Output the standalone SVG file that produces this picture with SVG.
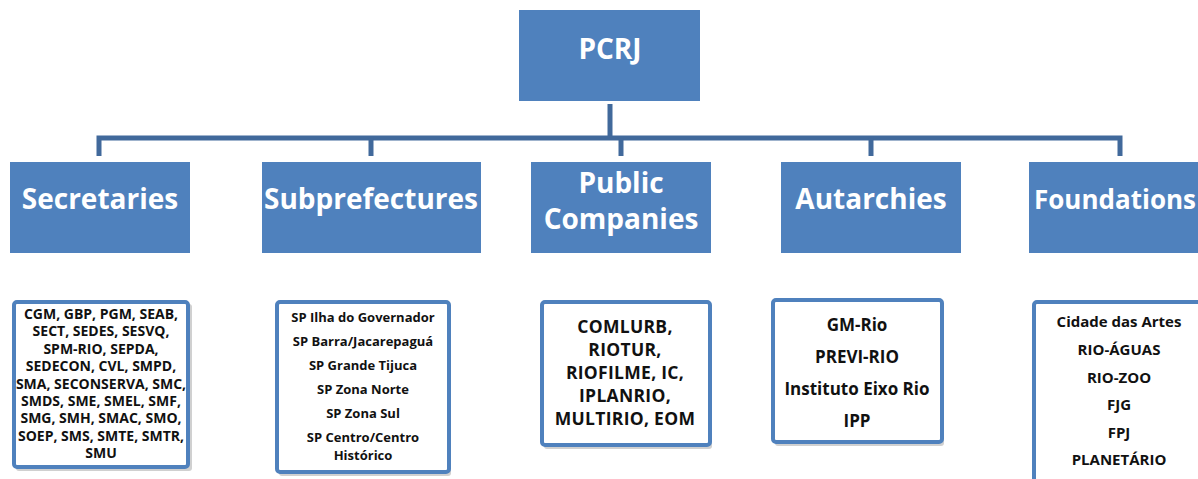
<svg xmlns="http://www.w3.org/2000/svg" width="1198" height="479" viewBox="0 0 1198 479">
<style>
.hdr{fill:#4F81BD}
.ht{font-family:"Open Sans","Noto Sans",sans-serif;font-weight:bold;fill:#ffffff;font-size:28px;text-anchor:middle}
.lst{fill:#ffffff;stroke:#4F81BD;stroke-width:4}
.shd{fill:#d0d0d0}
.lt{font-family:"Open Sans","Noto Sans",sans-serif;font-weight:bold;fill:#111111;text-anchor:middle}
.con{fill:none;stroke:#41699B;stroke-width:5}
</style>
<g id="connectors">
<path class="con" d="M610,104 V138"/>
<path class="con" d="M99,156 V138 H1120 V156"/>
<path class="con" d="M371,138 V156"/>
<path class="con" d="M621,138 V156"/>
<path class="con" d="M871,138 V156"/>
</g>
<g id="pcrj">
<rect class="hdr" x="519" y="10" width="181" height="91"/>
<text class="ht" x="610" y="59">PCRJ</text>
</g>
<g id="secretaries">
<rect class="hdr" x="10" y="162" width="180" height="91"/>
<text class="ht" x="100" y="209">Secretaries</text>
</g>
<g id="subprefectures">
<rect class="hdr" x="262" y="162" width="219" height="91"/>
<text class="ht" x="371" y="209">Subprefectures</text>
</g>
<g id="public-companies">
<rect class="hdr" x="531" y="162" width="180" height="91"/>
<text class="ht" x="621" y="193">Public</text>
<text class="ht" x="621" y="229">Companies</text>
</g>
<g id="autarchies">
<rect class="hdr" x="781" y="162" width="180" height="91"/>
<text class="ht" x="871" y="209">Autarchies</text>
</g>
<g id="foundations">
<rect class="hdr" x="1029" y="162" width="180" height="91"/>
<text class="ht" x="1034" y="209" style="font-size:26px;text-anchor:start">Foundations</text>
</g>
<g id="secretaries-list">
<rect class="shd" x="16" y="304" width="176" height="167" rx="3"/>
<rect class="lst" x="14" y="302" width="174" height="165" rx="3"/>
<g class="lt" font-size="14">
<text x="101" y="319">CGM, GBP, PGM, SEAB,</text>
<text x="101" y="336.4">SECT, SEDES, SESVQ,</text>
<text x="101" y="353.8">SPM-RIO, SEPDA,</text>
<text x="101" y="371.2">SEDECON, CVL, SMPD,</text>
<text x="101" y="388.6">SMA, SECONSERVA, SMC,</text>
<text x="101" y="406">SMDS, SME, SMEL, SMF,</text>
<text x="101" y="423.4">SMG, SMH, SMAC, SMO,</text>
<text x="101" y="440.8">SOEP, SMS, SMTE, SMTR,</text>
<text x="101" y="458.2">SMU</text>
</g>
</g>
<g id="subprefectures-list">
<rect class="shd" x="279" y="304" width="172" height="172" rx="3"/>
<rect class="lst" x="277" y="302" width="172" height="170" rx="3"/>
<g class="lt" font-size="13">
<text x="363" y="322">SP Ilha do Governador</text>
<text x="363" y="346">SP Barra/Jacarepaguá</text>
<text x="363" y="370">SP Grande Tijuca</text>
<text x="363" y="394">SP Zona Norte</text>
<text x="363" y="418">SP Zona Sul</text>
<text x="363" y="442">SP Centro/Centro</text>
<text x="363" y="460">Histórico</text>
</g>
</g>
<g id="public-companies-list">
<rect class="shd" x="544" y="304" width="168" height="145" rx="3"/>
<rect class="lst" x="542" y="302" width="168" height="143" rx="3"/>
<g class="lt" font-size="17.5" letter-spacing="0.3">
<text x="625" y="333">COMLURB,</text>
<text x="625" y="356">RIOTUR,</text>
<text x="625" y="379">RIOFILME, IC,</text>
<text x="625" y="402">IPLANRIO,</text>
<text x="625" y="425">MULTIRIO, EOM</text>
</g>
</g>
<g id="autarchies-list">
<rect class="shd" x="775" y="302" width="169" height="144" rx="3"/>
<rect class="lst" x="773" y="300" width="169" height="142" rx="3"/>
<g class="lt" font-size="17">
<text x="857" y="331">GM-Rio</text>
<text x="857" y="363">PREVI-RIO</text>
<text x="857" y="395">Instituto Eixo Rio</text>
<text x="857" y="427">IPP</text>
</g>
</g>
<g id="foundations-list">
<rect class="shd" x="1036" y="304" width="180" height="190" rx="3"/>
<rect class="lst" x="1034" y="302" width="180" height="190" rx="3"/>
<g class="lt" font-size="15">
<text x="1119" y="327">Cidade das Artes</text>
<text x="1119" y="355">RIO-ÁGUAS</text>
<text x="1119" y="382.5">RIO-ZOO</text>
<text x="1119" y="410">FJG</text>
<text x="1119" y="437.5">FPJ</text>
<text x="1119" y="465">PLANETÁRIO</text>
</g>
</g>
</svg>
